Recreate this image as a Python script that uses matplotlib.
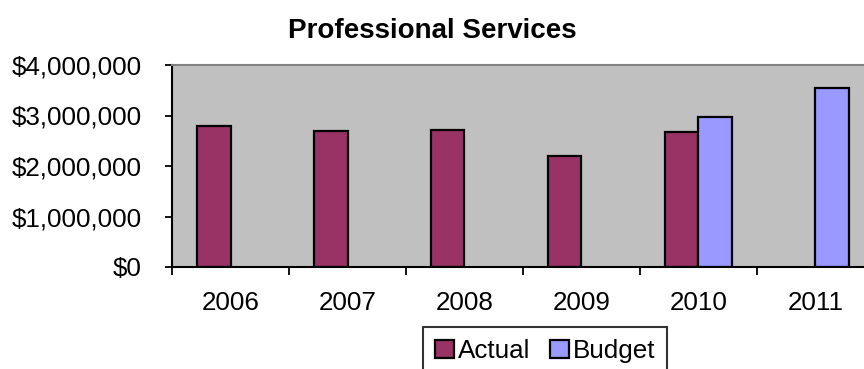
import numpy as np
import matplotlib
matplotlib.use("Agg")
import matplotlib.pyplot as plt
from matplotlib.ticker import FuncFormatter

years = ["2006", "2007", "2008", "2009", "2010", "2011"]
actual = [2790000, 2700000, 2720000, 2200000, 2680000, np.nan]
budget = [np.nan, np.nan, np.nan, np.nan, 2980000, 3540000]

plt.rcParams["font.family"] = ["Liberation Sans", "DejaVu Sans"]

fig = plt.figure(figsize=(8.64, 3.69), dpi=100)
ax = fig.add_axes([172 / 864, 102 / 369, 702 / 864, 202 / 369])
ax.set_facecolor("#C0C0C0")

x = np.arange(len(years))
w = 0.29
ax.bar(x - w / 2, actual, w, color="#993366", edgecolor="black", linewidth=1.6, label="Actual")
ax.bar(x + w / 2, budget, w, color="#9999FF", edgecolor="black", linewidth=1.6, label="Budget")

ax.set_xlim(-0.5, len(years) - 0.5)
ax.set_ylim(0, 4000000)
ax.set_yticks(np.arange(0, 4000001, 1000000))
ax.yaxis.set_major_formatter(FuncFormatter(lambda v, p: f"${v:,.0f}"))
ax.tick_params(axis="y", labelsize=18.7, length=5, width=1.3, pad=17, direction="out")

ax.set_xticks(x)
ax.set_xticklabels(years)
ax.set_xticks(np.arange(-0.5, len(years), 1), minor=True)
ax.tick_params(axis="x", which="major", length=0, labelsize=18.7, pad=17.5)
ax.tick_params(axis="x", which="minor", length=6, width=1.3, direction="out")

for s in ("left", "bottom"):
    ax.spines[s].set_linewidth(1.5)
    ax.spines[s].set_color("black")
ax.spines["top"].set_color("#808080")
ax.spines["top"].set_linewidth(1.5)
ax.spines["right"].set_visible(False)

fig.text(0.5, 1 - 31 / 369, "Professional Services", ha="center", va="center",
         fontsize=20, fontweight="bold")

leg = fig.legend(loc="upper left", bbox_to_anchor=(423 / 864, 1 - 327 / 369), ncol=2,
                 fontsize=18.7, frameon=True, fancybox=False, edgecolor="black",
                 handlelength=0.75, handleheight=0.7, handletextpad=0.15,
                 columnspacing=0.75, borderpad=0.45, borderaxespad=0)
leg.get_frame().set_linewidth(1.5)

fig.savefig("out.png", dpi=100)
